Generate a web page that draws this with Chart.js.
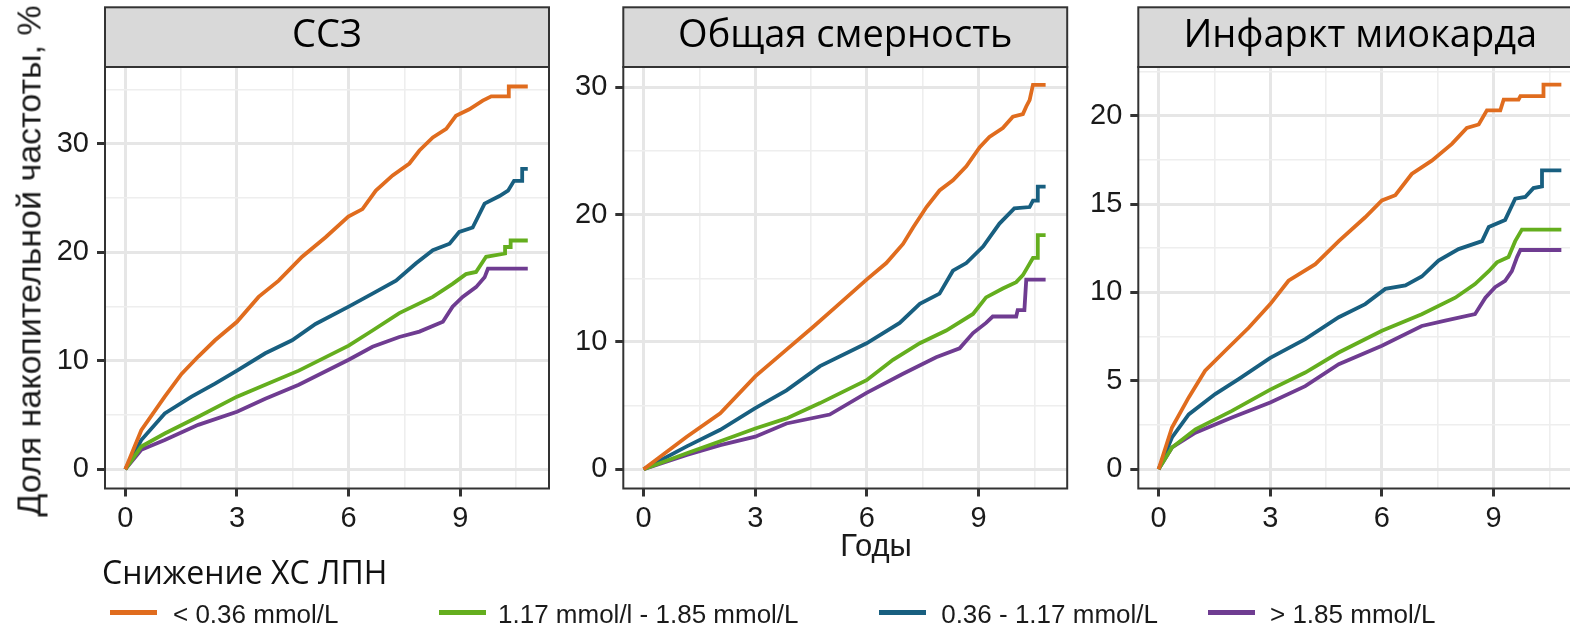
<!DOCTYPE html>
<html>
<head>
<meta charset="utf-8">
<script src="https://cdn.jsdelivr.net/npm/chart.js@4.4.1/dist/chart.umd.min.js"></script>
<style>
html,body{margin:0;padding:0;background:#fff;overflow:hidden;width:1570px;height:629px;}
#wrap{position:relative;width:1570px;height:629px;overflow:hidden;background:#fff;}
canvas{position:absolute;left:0;top:0;}
.t{position:absolute;white-space:nowrap;color:#1a1a1a;line-height:normal;}
.sw{position:absolute;height:5px;width:47px;}
</style>
</head>
<body>
<div id="wrap">
<canvas id="c1" width="1600" height="629"></canvas>
<canvas id="c2" width="1600" height="629"></canvas>
<canvas id="c3" width="1600" height="629"></canvas>
<div class="t" id="ytitle" style="font-family:'Liberation Sans',Arial,sans-serif;font-size:34px;left:28.7px;top:260.5px;transform:translate(-50%,-50%) rotate(-90deg);"></div>
<div class="t" id="xtitle" style="font-family:'Liberation Sans',Arial,sans-serif;font-size:31px;left:876px;top:527.5px;transform:translateX(-50%);"></div>
<div class="t" id="legtitle" style="font-family:'Open Sans',sans-serif;font-size:32px;left:102px;top:550.4px;color:#111;"></div>
<div id="legend"></div>
</div>
<script>
// ---------- data ----------
const PANEL_TITLES = ['ССЗ', 'Общая смерность', 'Инфаркт миокарда'];
const SERIES_LABELS = ['< 0.36 mmol/L', '1.17 mmol/l - 1.85 mmol/L', '0.36 - 1.17 mmol/L', '> 1.85 mmol/L'];
const SERIES_COLORS = ['#E06C1E', '#64AE1E', '#185F80', '#6F3C91'];
const Y_TITLE = 'Доля накопительной частоты, %';
const X_TITLE = 'Годы';
const LEGEND_TITLE = 'Снижение ХС ЛПН';

const X_MAJOR = [0, 3, 6, 9];
const X_MINOR = [1.5, 4.5, 7.5, 10.5];
const Y_MAJOR_CVD = [0, 10, 20, 30];
const Y_MINOR_CVD = [5, 15, 25, 35];
const Y_MAJOR_MORT = [0, 10, 20, 30];
const Y_MINOR_MORT = [5, 15, 25];
const Y_MAJOR_MI = [0, 5, 10, 15, 20];
const Y_MINOR_MI = [2.5, 7.5, 12.5, 17.5, 22.5];

// CVD (ССЗ) — [years, %]
const CVD_LT036 = [[0,0],[0.43,3.6],[1.06,6.7],[1.51,8.8],[1.96,10.4],[2.41,11.9],[3.0,13.6],[3.58,15.9],[4.12,17.4],[4.75,19.6],[5.38,21.4],[5.99,23.3],[6.37,24.0],[6.73,25.7],[7.18,27.1],[7.63,28.2],[7.9,29.4],[8.26,30.6],[8.62,31.4],[8.88,32.6],[9.24,33.2],[9.6,34.0],[9.83,34.4],[10.3,34.4],[10.3,35.3],[10.81,35.3]];
const CVD_117_185 = [[0,0],[0.43,2.1],[1.06,3.3],[1.96,4.85],[3.0,6.7],[3.76,7.8],[4.66,9.1],[6.0,11.4],[6.64,12.8],[7.36,14.4],[8.26,15.9],[8.79,17.1],[9.15,18.0],[9.42,18.2],[9.69,19.6],[10.2,19.9],[10.2,20.5],[10.35,20.5],[10.35,21.1],[10.81,21.1]];
const CVD_036_117 = [[0,0],[0.43,2.7],[1.06,5.15],[1.78,6.7],[2.41,7.9],[3.0,9.1],[3.76,10.7],[4.48,11.9],[5.11,13.4],[6.0,15.0],[6.64,16.2],[7.27,17.4],[7.81,19.0],[8.26,20.2],[8.71,20.8],[8.97,21.9],[9.33,22.3],[9.65,24.5],[10.05,25.2],[10.28,25.7],[10.44,26.6],[10.66,26.6],[10.66,27.7],[10.81,27.7]];
const CVD_GT185 = [[0,0],[0.43,1.8],[1.06,2.7],[1.96,4.1],[3.0,5.3],[3.76,6.5],[4.66,7.8],[6.0,10.1],[6.64,11.3],[7.36,12.2],[7.9,12.7],[8.53,13.6],[8.79,15.0],[9.06,15.9],[9.42,16.8],[9.65,17.7],[9.74,18.5],[10.81,18.5]];

// Общая смертность
const MORT_LT036 = [[0,0],[1.16,2.56],[2.06,4.4],[3.0,7.3],[3.84,9.4],[4.56,11.2],[5.18,12.8],[5.99,14.9],[6.52,16.2],[6.97,17.7],[7.24,19.0],[7.6,20.6],[7.95,21.9],[8.31,22.7],[8.67,23.8],[9.03,25.3],[9.29,26.1],[9.65,26.8],[9.92,27.7],[10.19,27.9],[10.28,28.5],[10.37,29.0],[10.46,30.2],[10.8,30.2]];
const MORT_117_185 = [[0,0],[1.16,1.26],[2.06,2.2],[3.0,3.2],[3.84,4.0],[4.74,5.2],[5.99,7.0],[6.7,8.6],[7.42,9.9],[8.13,10.9],[8.85,12.2],[9.2,13.5],[9.65,14.2],[10.01,14.7],[10.19,15.25],[10.32,15.9],[10.46,16.6],[10.59,16.6],[10.59,18.4],[10.8,18.4]];
const MORT_036_117 = [[0,0],[1.16,1.8],[2.06,3.1],[3.0,4.8],[3.84,6.2],[4.74,8.1],[5.99,9.9],[6.88,11.5],[7.42,13.0],[7.95,13.8],[8.31,15.6],[8.67,16.2],[9.12,17.5],[9.56,19.3],[9.96,20.5],[10.37,20.6],[10.46,21.1],[10.59,21.1],[10.59,22.2],[10.8,22.2]];
const MORT_GT185 = [[0,0],[1.16,1.12],[2.06,1.9],[3.0,2.56],[3.84,3.6],[5.0,4.3],[5.99,6.0],[6.97,7.5],[7.86,8.8],[8.49,9.5],[8.85,10.7],[9.2,11.5],[9.38,12.0],[10.01,12.0],[10.05,12.5],[10.23,12.5],[10.28,14.9],[10.8,14.9]];

// Инфаркт миокарда
const MI_LT036 = [[0,0],[0.36,2.36],[0.81,4.06],[1.25,5.57],[1.79,6.7],[2.42,8.0],[3.0,9.34],[3.49,10.66],[4.21,11.6],[4.84,12.9],[5.55,14.25],[6.0,15.2],[6.36,15.5],[6.8,16.7],[7.34,17.45],[7.88,18.4],[8.28,19.3],[8.6,19.5],[8.82,20.3],[9.18,20.3],[9.27,20.9],[9.67,20.9],[9.72,21.1],[10.34,21.1],[10.34,21.75],[10.82,21.75]];
const MI_117_185 = [[0,0],[0.36,1.23],[0.99,2.26],[1.97,3.3],[3.0,4.5],[3.94,5.47],[4.84,6.6],[6.0,7.83],[7.07,8.77],[7.97,9.7],[8.5,10.47],[8.87,11.2],[9.09,11.7],[9.4,12.0],[9.58,12.9],[9.76,13.55],[10.82,13.55]];
const MI_036_117 = [[0,0],[0.36,1.8],[0.81,3.1],[1.52,4.25],[2.15,5.1],[3.0,6.3],[3.94,7.36],[4.84,8.6],[5.55,9.34],[6.09,10.2],[6.63,10.4],[7.07,10.9],[7.52,11.8],[8.06,12.45],[8.69,12.9],[8.87,13.7],[9.31,14.1],[9.58,15.3],[9.85,15.4],[10.07,15.9],[10.3,16.0],[10.3,16.9],[10.82,16.9]];
const MI_GT185 = [[0,0],[0.36,1.23],[0.99,2.07],[1.97,2.92],[3.0,3.77],[3.94,4.7],[4.84,5.94],[6.0,6.98],[7.07,8.1],[7.7,8.4],[8.5,8.77],[8.78,9.7],[9.04,10.3],[9.31,10.66],[9.49,11.2],[9.63,12.0],[9.72,12.4],[10.82,12.4]];

// ---------- layout ----------
const CANVAS_W = 1600, CANVAS_H = 629;
const PLOT_TOP = 67, PLOT_BOTTOM = 488.5, STRIP_TOP = 7.3;
const Y_AXIS_W = 90, X_AXIS_H = 60;
const X_RANGE = [-0.545, 11.38];

const PANELS = [
  { id: 'c1', left: 105, right: 549, yRange: [-1.77, 37.1], yMajor: Y_MAJOR_CVD, yMinor: Y_MINOR_CVD,
    series: [CVD_LT036, CVD_117_185, CVD_036_117, CVD_GT185] },
  { id: 'c2', left: 623.3, right: 1067.2, yRange: [-1.51, 31.6], yMajor: Y_MAJOR_MORT, yMinor: Y_MINOR_MORT,
    series: [MORT_LT036, MORT_117_185, MORT_036_117, MORT_GT185] },
  { id: 'c3', left: 1138.3, right: 1582.2, yRange: [-1.09, 22.75], yMajor: Y_MAJOR_MI, yMinor: Y_MINOR_MI,
    series: [MI_LT036, MI_117_185, MI_036_117, MI_GT185] }
];

const TICK_FONT = { family: "'Liberation Sans', Arial, sans-serif", size: 29 };
const TEXT_COLOR = '#1a1a1a';

const framePlugin = {
  id: 'frame',
  beforeDraw(chart) {
    const { ctx, chartArea: a } = chart;
    ctx.save();
    ctx.fillStyle = '#D9D9D9';
    ctx.fillRect(a.left, STRIP_TOP, a.right - a.left, a.top - STRIP_TOP);
    ctx.restore();
  },
  afterDraw(chart) {
    const { ctx, chartArea: a } = chart;
    ctx.save();
    ctx.strokeStyle = '#333333';
    ctx.lineWidth = 2;
    ctx.strokeRect(a.left, STRIP_TOP, a.right - a.left, a.top - STRIP_TOP);
    ctx.strokeRect(a.left, a.top, a.right - a.left, a.bottom - a.top);
    ctx.restore();
  }
};

function gridOpts(major) {
  return {
    color: c => (c.tick && major.includes(c.tick.value)) ? '#E6E6E6' : '#EEEEEE',
    lineWidth: c => (c.tick && major.includes(c.tick.value)) ? 3 : 1.6,
    tickColor: c => (c.tick && major.includes(c.tick.value)) ? '#333333' : 'rgba(0,0,0,0)',
    tickWidth: 3,
    tickLength: 8,
    drawTicks: true
  };
}

PANELS.forEach((p, pi) => {
  const xTicks = X_MAJOR.concat(X_MINOR).sort((a, b) => a - b);
  const yTicks = p.yMajor.concat(p.yMinor).sort((a, b) => a - b);
  new Chart(document.getElementById(p.id), {
    type: 'line',
    data: {
      datasets: p.series.map((s, si) => ({
        label: SERIES_LABELS[si],
        data: s.map(([x, y]) => ({ x, y })),
        borderColor: SERIES_COLORS[si],
        backgroundColor: SERIES_COLORS[si],
        borderWidth: 3.8,
        pointRadius: 0,
        tension: 0,
        fill: false,
        borderJoinStyle: 'miter'
      }))
    },
    options: {
      responsive: false,
      animation: false,
      devicePixelRatio: 1,
      layout: {
        padding: {
          left: p.left - Y_AXIS_W,
          right: CANVAS_W - p.right,
          top: STRIP_TOP,
          bottom: CANVAS_H - PLOT_BOTTOM - X_AXIS_H
        }
      },
      plugins: { legend: { display: false }, tooltip: { enabled: false }, title: { display: false } },
      scales: {
        x: {
          type: 'linear', position: 'bottom', min: X_RANGE[0], max: X_RANGE[1],
          afterBuildTicks: s => { s.ticks = xTicks.map(v => ({ value: v })); },
          afterFit: s => { s.height = X_AXIS_H; },
          grid: gridOpts(X_MAJOR),
          border: { display: false },
          ticks: {
            autoSkip: false, maxRotation: 0, padding: 5,
            font: TICK_FONT, color: TEXT_COLOR,
            callback: v => X_MAJOR.includes(v) ? String(v) : ''
          }
        },
        strip: {
          type: 'linear', axis: 'x', position: 'top', min: X_RANGE[0], max: X_RANGE[1],
          afterFit: s => { s.height = PLOT_TOP - STRIP_TOP; },
          grid: { display: false, drawTicks: false },
          border: { display: false },
          ticks: { display: false },
          title: {
            display: true, text: PANEL_TITLES[pi], color: '#000000',
            font: { family: "'Open Sans', 'Noto Sans', sans-serif", size: 38 },
            padding: { top: 6.5, bottom: 0 }
          }
        },
        y: {
          type: 'linear', position: 'left', min: p.yRange[0], max: p.yRange[1],
          afterBuildTicks: s => { s.ticks = yTicks.map(v => ({ value: v })); },
          afterFit: s => { s.width = Y_AXIS_W; },
          grid: gridOpts(p.yMajor),
          border: { display: false },
          ticks: {
            autoSkip: false, padding: 8,
            font: TICK_FONT, color: TEXT_COLOR,
            callback: v => p.yMajor.includes(v) ? String(v) : ''
          }
        }
      }
    },
    plugins: [framePlugin]
  });
});

// ---------- texts & legend ----------
document.getElementById('ytitle').textContent = Y_TITLE;
document.getElementById('xtitle').textContent = X_TITLE;
document.getElementById('legtitle').textContent = LEGEND_TITLE;

const LEG_SWATCH_X = [110, 438.6, 879.2, 1208.3];
const LEG_TEXT_X = [173, 498, 941.2, 1270];
const legend = document.getElementById('legend');
SERIES_LABELS.forEach((lab, i) => {
  const sw = document.createElement('div');
  sw.className = 'sw';
  sw.style.left = LEG_SWATCH_X[i] + 'px';
  sw.style.top = '609.8px';
  sw.style.background = SERIES_COLORS[i];
  legend.appendChild(sw);
  const tx = document.createElement('div');
  tx.className = 't';
  tx.style.fontFamily = "'Liberation Sans', Arial, sans-serif";
  tx.style.fontSize = '26px';
  tx.style.left = LEG_TEXT_X[i] + 'px';
  tx.style.top = '599.1px';
  tx.textContent = lab;
  legend.appendChild(tx);
});
</script>
</body>
</html>
